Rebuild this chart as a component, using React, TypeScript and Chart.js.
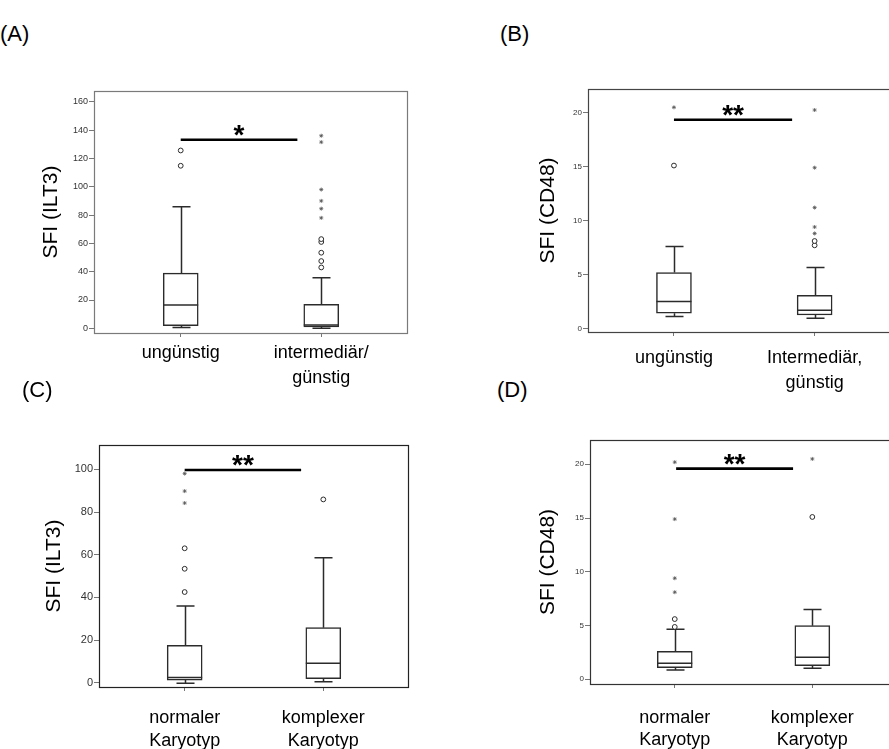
import React, { useEffect, useRef } from 'react';
import { Chart, registerables } from 'chart.js';

Chart.register(...registerables);

const FONT = "'Liberation Sans', Arial, Helvetica, sans-serif";

// ---------- Panel A : SFI (ILT3) by risk group ----------
const catsA = [['ungünstig'], ['intermediär/', 'günstig']];
const lowA = [0.5, 0];
const q1A = [1.9, 1.0];
const medA = [16.5, 2.4];
const q3A = [39, 17];
const highA = [85.9, 35.8];
const circlesA = [[125.6, 114.8], [43, 47.5, 53.4, 61, 63]];
const starsA = [[], [78, 84.5, 90, 98, 131.5, 136]];
const yTicksA = [0, 20, 40, 60, 80, 100, 120, 140, 160];
const sigA = [1.0, 1.83, 133.2];
const sigTextA = '*';

// ---------- Panel B : SFI (CD48) by risk group ----------
const catsB = [['ungünstig'], ['Intermediär,', 'günstig']];
const lowB = [1.09, 0.93];
const q1B = [1.4, 1.24];
const medB = [2.48, 1.67];
const q3B = [5.18, 3.07];
const highB = [7.6, 5.64];
const circlesB = [[15.1], [7.7, 8.1]];
const starsB = [[20.5], [8.8, 9.4, 11.2, 14.9, 20.25]];
const yTicksB = [0, 5, 10, 15, 20];
const sigB = [1.0, 1.84, 19.35];
const sigTextB = '**';

// ---------- Panel C : SFI (ILT3) by karyotype ----------
const catsC = [['normaler', 'Karyotyp'], ['komplexer', 'Karyotyp']];
const lowC = [-0.3, 0.5];
const q1C = [1.25, 1.9];
const medC = [2.5, 9.1];
const q3C = [17.5, 25.8];
const highC = [35.9, 58.6];
const circlesC = [[42.5, 53.4, 63], [85.9]];
const starsC = [[84.2, 89.8, 98], []];
const yTicksC = [0, 20, 40, 60, 80, 100];
const sigC = [1.0, 1.84, 99.7];
const sigTextC = '**';

// ---------- Panel D : SFI (CD48) by karyotype ----------
const catsD = [['normaler', 'Karyotyp'], ['komplexer', 'Karyotyp']];
const lowD = [0.87, 1.03];
const q1D = [1.09, 1.27];
const medD = [1.5, 2.05];
const q3D = [2.6, 4.99];
const highD = [4.65, 6.5];
const circlesD = [[4.87, 5.6], [15.1]];
const starsD = [[8.1, 9.4, 14.9, 20.2], [20.5]];
const yTicksD = [0, 5, 10, 15, 20];
const sigD = [1.01, 1.86, 19.6];
const sigTextD = '**';

type Panel = {
  cats: string[][];
  low: number[];
  q1: number[];
  med: number[];
  q3: number[];
  high: number[];
  circles: number[][];
  stars: number[][];
  yTicks: number[];
  sig: number[];
  sigText: string;
  yTitle: string;
  yMin: number;
  yMax: number;
  xMin: number;
  xMax: number;
  box: { left: number; top: number; width: number; height: number };
  padTop: number;
  padRight: number;
  yAxisW: number;
  xAxisH: number;
  titlePad: number;
  xPad: number;
  xLineHeight: number;
  tickSize: number;
  frameColor: string;
};

const panels: Panel[] = [
  {
    cats: catsA, low: lowA, q1: q1A, med: medA, q3: q3A, high: highA,
    circles: circlesA, stars: starsA, yTicks: yTicksA, sig: sigA, sigText: sigTextA,
    yTitle: 'SFI (ILT3)', yMin: -3.3, yMax: 167.6, xMin: 0.383, xMax: 2.61,
    box: { left: 36, top: 60, width: 410, height: 340 },
    padTop: 31, padRight: 39, yAxisW: 58, xAxisH: 67, titlePad: 2.4, xPad: 4,
    xLineHeight: 1.38, tickSize: 9, frameColor: '#7a7a7a',
  },
  {
    cats: catsB, low: lowB, q1: q1B, med: medB, q3: q3B, high: highB,
    circles: circlesB, stars: starsB, yTicks: yTicksB, sig: sigB, sigText: sigTextB,
    yTitle: 'SFI (CD48)', yMin: -0.34, yMax: 22.2, xMin: 0.389, xMax: 2.614,
    box: { left: 536, top: 60, width: 370, height: 340 },
    padTop: 29, padRight: 5, yAxisW: 52, xAxisH: 68, titlePad: 0, xPad: 10,
    xLineHeight: 1.38, tickSize: 8, frameColor: '#444',
  },
  {
    cats: catsC, low: lowC, q1: q1C, med: medC, q3: q3C, high: highC,
    circles: circlesC, stars: starsC, yTicks: yTicksC, sig: sigC, sigText: sigTextC,
    yTitle: 'SFI (ILT3)', yMin: -2, yMax: 111.4, xMin: 0.382, xMax: 2.611,
    box: { left: 39, top: 420, width: 410, height: 340 },
    padTop: 25, padRight: 41, yAxisW: 60, xAxisH: 73, titlePad: 2.4, xPad: 16,
    xLineHeight: 1.26, tickSize: 11, frameColor: '#222',
  },
  {
    cats: catsD, low: lowD, q1: q1D, med: medD, q3: q3D, high: highD,
    circles: circlesD, stars: starsD, yTicks: yTicksD, sig: sigD, sigText: sigTextD,
    yTitle: 'SFI (CD48)', yMin: -0.44, yMax: 22.26, xMin: 0.384, xMax: 2.659,
    box: { left: 535, top: 420, width: 375, height: 340 },
    padTop: 20, padRight: 7, yAxisW: 55, xAxisH: 76, titlePad: 0.4, xPad: 19,
    xLineHeight: 1.24, tickSize: 8, frameColor: '#333',
  },
];

const BOX_COLOR = '#2b2b2b';

function makePlugin(p: Panel) {
  return {
    id: 'boxplotExtras',
    beforeDatasetsDraw(chart: any) {
      const { ctx, scales } = chart;
      const xs = scales.x;
      const ys = scales.y;
      ctx.save();
      ctx.strokeStyle = BOX_COLOR;
      ctx.lineWidth = 1.5;
      const cap = 9;
      p.med.forEach((_m, i) => {
        const x = Math.round(xs.getPixelForValue(i + 1)) + 0.5;
        const yq1 = ys.getPixelForValue(p.q1[i]);
        const yq3 = ys.getPixelForValue(p.q3[i]);
        const ylo = ys.getPixelForValue(p.low[i]);
        const yhi = ys.getPixelForValue(p.high[i]);
        ctx.beginPath();
        ctx.moveTo(x, yq3);
        ctx.lineTo(x, yhi);
        ctx.moveTo(x - cap, yhi);
        ctx.lineTo(x + cap, yhi);
        ctx.moveTo(x, yq1);
        ctx.lineTo(x, ylo);
        ctx.moveTo(x - cap, ylo);
        ctx.lineTo(x + cap, ylo);
        ctx.stroke();
      });
      ctx.restore();
    },
    afterDatasetDraw(chart: any, args: any) {
      if (args.index !== 0) return;
      const { ctx, scales } = chart;
      const xs = scales.x;
      const ys = scales.y;
      ctx.save();
      ctx.strokeStyle = BOX_COLOR;
      ctx.lineWidth = 1.5;
      p.med.forEach((m, i) => {
        const x = xs.getPixelForValue(i + 1);
        const ym = ys.getPixelForValue(m);
        ctx.beginPath();
        ctx.moveTo(x - 17.5, ym);
        ctx.lineTo(x + 17.5, ym);
        ctx.stroke();
      });
      ctx.restore();
    },
    afterDraw(chart: any) {
      const { ctx, chartArea, scales } = chart;
      const xs = scales.x;
      const ys = scales.y;
      ctx.save();
      // frame
      ctx.strokeStyle = p.frameColor;
      ctx.lineWidth = 1.2;
      ctx.strokeRect(
        Math.round(chartArea.left) + 0.5,
        Math.round(chartArea.top) + 0.5,
        Math.round(chartArea.right - chartArea.left),
        Math.round(chartArea.bottom - chartArea.top)
      );
      // significance bar
      const x1 = xs.getPixelForValue(p.sig[0]);
      const x2 = xs.getPixelForValue(p.sig[1]);
      const y = ys.getPixelForValue(p.sig[2]);
      ctx.strokeStyle = '#000';
      ctx.lineWidth = 2.6;
      ctx.beginPath();
      ctx.moveTo(x1, y);
      ctx.lineTo(x2, y);
      ctx.stroke();
      ctx.fillStyle = '#000';
      ctx.font = `bold 28px ${FONT}`;
      ctx.textAlign = 'center';
      ctx.textBaseline = 'alphabetic';
      ctx.fillText(p.sigText, (x1 + x2) / 2, y + 4);
      ctx.restore();
    },
  };
}

function BoxPanel({ p }: { p: Panel }) {
  const ref = useRef<HTMLCanvasElement | null>(null);
  useEffect(() => {
    if (!ref.current) return;
    const circleData: { x: number; y: number }[] = [];
    p.circles.forEach((arr, i) => arr.forEach((v) => circleData.push({ x: i + 1, y: v })));
    const starData: { x: number; y: number }[] = [];
    p.stars.forEach((arr, i) => arr.forEach((v) => starData.push({ x: i + 1, y: v })));
    const chart = new Chart(ref.current, {
      type: 'bar',
      data: {
        datasets: [
          {
            type: 'bar',
            data: p.q1.map((q, i) => ({ x: i + 1, y: [q, p.q3[i]] })) as any,
            backgroundColor: '#ffffff',
            borderColor: BOX_COLOR,
            borderWidth: 1.5,
            borderSkipped: false,
            barThickness: 35,
          } as any,
          {
            type: 'scatter',
            data: circleData,
            pointStyle: 'circle',
            pointRadius: 2.4,
            backgroundColor: '#ffffff',
            borderColor: BOX_COLOR,
            borderWidth: 1,
          } as any,
          {
            type: 'scatter',
            data: starData,
            pointStyle: 'star',
            pointRadius: 2,
            backgroundColor: '#555',
            borderColor: '#555',
            borderWidth: 0.8,
          } as any,
        ],
      },
      options: {
        responsive: false,
        animation: false,
        devicePixelRatio: 1,
        layout: { padding: { top: p.padTop, right: p.padRight, left: 0, bottom: 0 } },
        plugins: { legend: { display: false }, tooltip: { enabled: false } },
        scales: {
          x: {
            type: 'linear',
            min: p.xMin,
            max: p.xMax,
            offset: false,
            afterBuildTicks: (s: any) => {
              s.ticks = p.cats.map((_c, i) => ({ value: i + 1 }));
            },
            afterFit: (s: any) => {
              s.height = p.xAxisH;
            },
            ticks: {
              autoSkip: false,
              maxRotation: 0,
              padding: p.xPad,
              color: '#000',
              font: { family: FONT, size: 18, lineHeight: p.xLineHeight },
              callback: (v: any) => p.cats[Math.round(Number(v)) - 1] as any,
            },
            grid: { drawOnChartArea: false, drawTicks: true, tickLength: 4, color: '#777', offset: false },
            border: { display: false },
          },
          y: {
            type: 'linear',
            min: p.yMin,
            max: p.yMax,
            afterBuildTicks: (s: any) => {
              s.ticks = p.yTicks.map((v) => ({ value: v }));
            },
            afterFit: (s: any) => {
              s.width = p.yAxisW;
            },
            ticks: {
              padding: 1,
              color: '#333',
              font: { family: FONT, size: p.tickSize },
            },
            grid: { drawOnChartArea: false, drawTicks: true, tickLength: 5, color: '#777' },
            border: { display: false },
            title: {
              display: true,
              text: p.yTitle,
              color: '#000',
              font: { family: FONT, size: 21, lineHeight: 1.2 },
              padding: { top: p.titlePad, bottom: 0 },
            },
          },
        },
      } as any,
      plugins: [makePlugin(p) as any],
    });
    return () => chart.destroy();
  }, [p]);
  return (
    <canvas
      ref={ref}
      width={p.box.width}
      height={p.box.height}
      style={{
        position: 'absolute',
        left: p.box.left,
        top: p.box.top,
        width: p.box.width,
        height: p.box.height,
      }}
    />
  );
}

const letters = [
  { text: '(A)', left: 0, top: 21 },
  { text: '(B)', left: 500, top: 21 },
  { text: '(C)', left: 22, top: 377 },
  { text: '(D)', left: 497, top: 377 },
];

export default function App() {
  return (
    <div
      style={{
        position: 'fixed',
        left: 0,
        top: 0,
        width: 889,
        height: 749,
        overflow: 'hidden',
        background: '#ffffff',
        fontFamily: FONT,
      }}
    >
      {panels.map((p, i) => (
        <BoxPanel key={i} p={p} />
      ))}
      {letters.map((l) => (
        <div
          key={l.text}
          style={{
            position: 'absolute',
            left: l.left,
            top: l.top,
            fontSize: 22,
            lineHeight: '26px',
            color: '#000',
            whiteSpace: 'nowrap',
          }}
        >
          {l.text}
        </div>
      ))}
    </div>
  );
}
